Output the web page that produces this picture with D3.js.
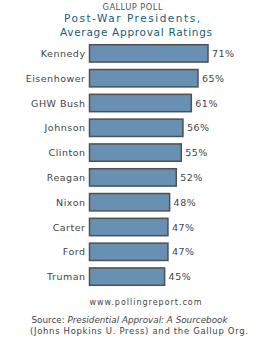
<!DOCTYPE html>
<html>
<head>
<meta charset="utf-8">
<script src="https://cdn.jsdelivr.net/npm/d3@7"></script>
<style>
  body { margin: 0; background: #fff; }
  svg { display: block; font-family: "DejaVu Sans", Verdana, sans-serif; }
</style>
</head>
<body>
<div id="chart"></div>
<script>
const presidents = ["Kennedy", "Eisenhower", "GHW Bush", "Johnson", "Clinton", "Reagan", "Nixon", "Carter", "Ford", "Truman"];
const ratings = [71, 65, 61, 56, 55, 52, 48, 47, 47, 45];

const width = 265, height = 338;
const barLeft = 89.5;

const svg = d3.select("#chart").append("svg")
  .attr("width", width)
  .attr("height", height);

// Titulos
svg.append("text")
  .attr("x", 102.5).attr("y", 9.5)
  .attr("font-size", 8.3)
  .attr("textLength", 60).attr("lengthAdjust", "spacing")
  .attr("fill", "#555")
  .text("GALLUP POLL");

svg.append("text")
  .attr("x", 64).attr("y", 21.5)
  .attr("font-size", 10.5)
  .attr("textLength", 136).attr("lengthAdjust", "spacing")
  .attr("fill", "#1b5a7a")
  .text("Post-War Presidents,");

svg.append("text")
  .attr("x", 60).attr("y", 35.5)
  .attr("font-size", 10.5)
  .attr("textLength", 152).attr("lengthAdjust", "spacing")
  .attr("fill", "#1b5a7a")
  .text("Average Approval Ratings");

const x = d3.scaleLinear()
  .domain([0, 71])
  .range([0, 118.5]);

const y = d3.scaleBand()
  .domain(presidents)
  .range([41, 289])
  .paddingInner(0.3)
  .paddingOuter(0.15);

const rows = presidents.map((p, i) => ({ name: p, value: ratings[i] }));

// Barras
svg.selectAll("rect.bar")
  .data(rows).enter().append("rect")
  .attr("class", "bar")
  .attr("x", barLeft)
  .attr("y", d => y(d.name))
  .attr("width", d => x(d.value))
  .attr("height", y.bandwidth())
  .attr("fill", "#6890b2")
  .attr("stroke", "#505050")
  .attr("stroke-width", 1.5);

// Nombres
svg.selectAll("text.name")
  .data(rows).enter().append("text")
  .attr("class", "name")
  .attr("x", barLeft - 4)
  .attr("y", d => y(d.name) + y.bandwidth() / 2 + 3.5)
  .attr("text-anchor", "end")
  .attr("font-size", 9.5)
  .attr("letter-spacing", 0.5)
  .attr("fill", "#444")
  .text(d => d.name);

// Valores
svg.selectAll("text.value")
  .data(rows).enter().append("text")
  .attr("class", "value")
  .attr("x", d => barLeft + x(d.value) + 4)
  .attr("y", d => y(d.name) + y.bandwidth() / 2 + 3.5)
  .attr("font-size", 9.5)
  .attr("letter-spacing", 0.5)
  .attr("fill", "#444")
  .text(d => d.value + "%");

// Pie
svg.append("text")
  .attr("x", 89.5).attr("y", 305)
  .attr("font-size", 8)
  .attr("textLength", 112).attr("lengthAdjust", "spacing")
  .attr("fill", "#444")
  .text("www.pollingreport.com");

const src = svg.append("text")
  .attr("x", 31.5).attr("y", 323)
  .attr("font-size", 8.5)
  .attr("textLength", 196).attr("lengthAdjust", "spacingAndGlyphs")
  .attr("fill", "#444");
src.append("tspan").text("Source: ");
src.append("tspan").attr("font-style", "italic").text("Presidential Approval:  A Sourcebook");

svg.append("text")
  .attr("x", 30).attr("y", 334)
  .attr("font-size", 8.5)
  .attr("textLength", 218).attr("lengthAdjust", "spacing")
  .attr("fill", "#444")
  .text("(Johns Hopkins U. Press) and the Gallup Org.");
</script>
</body>
</html>
